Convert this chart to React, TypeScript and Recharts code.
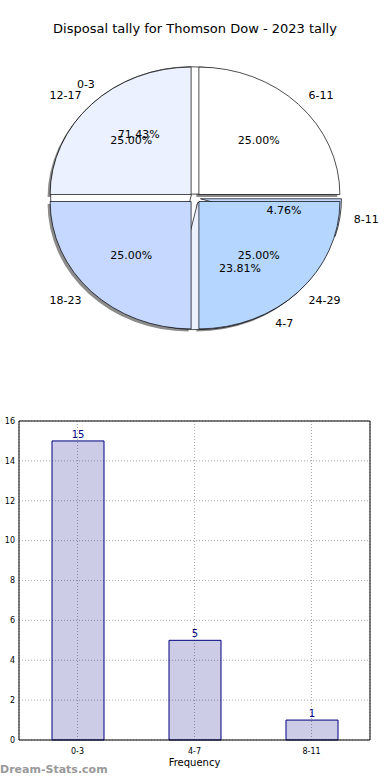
import React from 'react';
import {
  PieChart, Pie, Cell, BarChart, Bar, XAxis, YAxis, CartesianGrid, LabelList,
} from 'recharts';

// age bands (outer pie, equal shares)
const ageLabels = ['6-11', '12-17', '18-23', '24-29'];
const ageValues = [1, 1, 1, 1];

// disposal bands
const bandLabels = ['0-3', '4-7', '8-11'];
const bandValues = [15, 5, 1];

const yTicks = [0, 2, 4, 6, 8, 10, 12, 14, 16];

const sliceColors = ['#ffffff', '#ebf1ff', '#c6d8ff', '#b5d6ff'];

const ageData = ageLabels.map((name, i) => ({ name, value: ageValues[i] }));
const bandData = bandLabels.map((name, i) => ({ name, value: bandValues[i] }));

const RATIO = 131 / 145;
const EXPLODE = 5.5;
const FONT = '"DejaVu Sans", Verdana, sans-serif';

function ellipsePath(cx: number, cy: number, rx: number, ry: number, a0: number, a1: number) {
  const r = Math.PI / 180;
  const x0 = cx + rx * Math.cos(a0 * r);
  const y0 = cy - ry * Math.sin(a0 * r);
  const x1 = cx + rx * Math.cos(a1 * r);
  const y1 = cy - ry * Math.sin(a1 * r);
  const large = Math.abs(a1 - a0) > 180 ? 1 : 0;
  return `M${cx},${cy} L${x0},${y0} A${rx},${ry} 0 ${large} 0 ${x1},${y1} Z`;
}

function makeShape(shadow: boolean) {
  return (p: any) => {
    const mid = (p.startAngle + p.endAngle) / 2;
    const r = Math.PI / 180;
    const ox = EXPLODE * Math.cos(mid * r) + (shadow ? -2.5 : 0);
    const oy = -EXPLODE * RATIO * Math.sin(mid * r) + (shadow ? 2.5 : 0);
    const d = ellipsePath(p.cx + ox, p.cy + oy, p.outerRadius, p.outerRadius * RATIO, p.startAngle, p.endAngle);
    if (shadow) return <path d={d} fill="#8c8c8c" stroke="none" />;
    return <path d={d} fill={p.fill} stroke="#000" strokeWidth={0.7} />;
  };
}

const sliceShape = makeShape(false);
const shadowShape = makeShape(true);

function pieLabel(p: any) {
  const r = Math.PI / 180;
  const a = p.midAngle;
  const rx = p.outerRadius;
  const ry = p.outerRadius * RATIO;
  const ox = EXPLODE * Math.cos(a * r);
  const oy = -EXPLODE * RATIO * Math.sin(a * r);
  const px = p.cx + ox + 0.6 * rx * Math.cos(a * r);
  const py = p.cy + oy - 0.6 * ry * Math.sin(a * r);
  const lx = p.cx + ox + 1.1 * rx * Math.cos(a * r);
  const ly = p.cy + oy - 1.1 * ry * Math.sin(a * r);
  const anchor = Math.cos(a * r) >= 0 ? 'start' : 'end';
  return (
    <g>
      <text x={px} y={py} textAnchor="middle" dominantBaseline="central" fontSize={11} fontFamily={FONT} fill="#000">
        {(p.percent * 100).toFixed(2)}%
      </text>
      <text x={lx} y={ly} textAnchor={anchor} dominantBaseline="central" fontSize={11} fontFamily={FONT} fill="#000">
        {p.name}
      </text>
    </g>
  );
}

export default function App() {
  return (
    <div style={{ position: 'absolute', left: 0, top: 0, width: 390, height: 780, background: '#fff', fontFamily: FONT, overflow: 'hidden' }}>
      <div style={{ position: 'absolute', top: 21, left: 0, width: 390, textAlign: 'center', fontSize: 13, color: '#000' }}>
        Disposal tally for Thomson Dow - 2023 tally
      </div>

      <div style={{ position: 'absolute', top: 0, left: 0 }}>
        <PieChart width={390} height={390} margin={{ top: 0, right: 0, bottom: 0, left: 0 }}>
          <Pie data={ageData} dataKey="value" nameKey="name" cx={195} cy={198} outerRadius={141}
            startAngle={0} endAngle={360} shape={shadowShape} inactiveShape={shadowShape} activeShape={shadowShape}
            isAnimationActive={false} label={false} labelLine={false} />
          <Pie data={bandData} dataKey="value" nameKey="name" cx={195} cy={198} outerRadius={141}
            startAngle={0} endAngle={360} shape={sliceShape} inactiveShape={sliceShape} activeShape={sliceShape}
            isAnimationActive={false} label={pieLabel} labelLine={false}>
            {bandData.map((d, i) => <Cell key={d.name} fill={sliceColors[i]} />)}
          </Pie>
          <Pie data={ageData} dataKey="value" nameKey="name" cx={195} cy={198} outerRadius={141}
            startAngle={0} endAngle={360} shape={sliceShape} inactiveShape={sliceShape} activeShape={sliceShape}
            isAnimationActive={false} label={pieLabel} labelLine={false}>
            {ageData.map((d, i) => <Cell key={d.name} fill={sliceColors[i]} />)}
          </Pie>
        </PieChart>
      </div>

      <div style={{ position: 'absolute', top: 400, left: 0 }}>
        <BarChart width={390} height={380} data={bandData} margin={{ top: 20, right: 19, bottom: 10, left: 0 }} barSize={52}>
          <CartesianGrid stroke="#aaa" strokeDasharray="1 2" />
          <XAxis dataKey="name" height={30} tickLine={false} tickSize={0} axisLine={{ stroke: '#000' }} tickMargin={8}
            tick={{ fontSize: 8, fill: '#000', fontFamily: FONT }}
            label={{ value: 'Frequency', position: 'insideBottom', offset: 4, fontSize: 10, fill: '#000', fontFamily: FONT }} />
          <XAxis xAxisId="top" dataKey="name" orientation="top" tick={false} tickLine={false} height={1} axisLine={{ stroke: '#000' }} />
          <YAxis domain={[0, 16]} ticks={yTicks} interval={0} width={19} tickLine={false} tickSize={0} axisLine={{ stroke: '#000' }} tickMargin={4}
            tick={{ fontSize: 8, fill: '#000', fontFamily: FONT }} />
          <YAxis yAxisId="right" orientation="right" domain={[0, 16]} tick={false} tickLine={false} width={1} axisLine={{ stroke: '#000' }} />
          <Bar dataKey="value" fill="#000080" fillOpacity={0.2} stroke="#000080" strokeWidth={1} isAnimationActive={false}>
            <LabelList dataKey="value" position="top" offset={3} fontSize={10} fill="#000080" fontFamily={FONT} />
          </Bar>
        </BarChart>
      </div>

      <div style={{ position: 'absolute', left: -46, top: 584, width: 80, textAlign: 'center', fontSize: 10, transform: 'rotate(-90deg)', color: '#000' }}>
        Disposal Tally
      </div>
      <div style={{ position: 'absolute', left: 0, top: 763, fontSize: 11, fontWeight: 'bold', color: '#999' }}>
        Dream-Stats.com
      </div>
    </div>
  );
}
